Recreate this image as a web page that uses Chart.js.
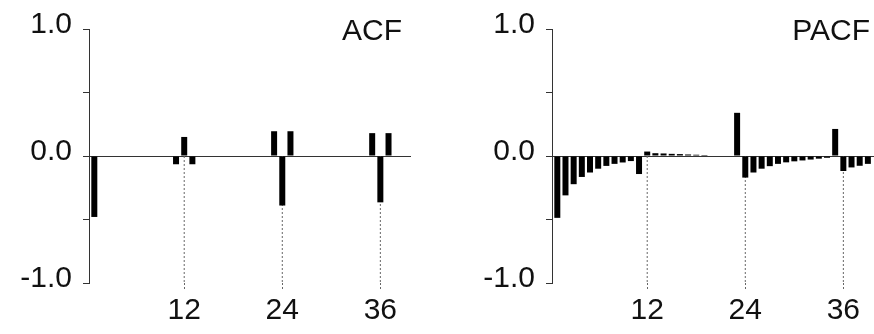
<!DOCTYPE html>
<html lang="en">
  <head>
    <meta charset="UTF-8" />
    <title>ACF / PACF</title>
    <script src="https://cdn.jsdelivr.net/npm/chart.js@4/dist/chart.umd.min.js"></script>
    <style>
      html,
      body {
        margin: 0;
        padding: 0;
        background: #fff;
        width: 874px;
        height: 334px;
        overflow: hidden;
        position: relative;
      }
      canvas {
        position: absolute;
        top: 0;
      }
      #acf {
        left: 0;
      }
      #pacf {
        left: 463px;
      }
    </style>
  </head>
  <body>
    <canvas id="acf" width="440" height="334"></canvas>
    <canvas id="pacf" width="440" height="334"></canvas>
  </body>
  <script>
    const lags = [
      1, 2, 3, 4, 5, 6, 7, 8, 9, 10, 11, 12, 13, 14, 15, 16, 17, 18, 19, 20,
      21, 22, 23, 24, 25, 26, 27, 28, 29, 30, 31, 32, 33, 34, 35, 36, 37, 38,
      39,
    ];

    const acf = [
      -0.48, 0, 0, 0, 0, 0, 0, 0, 0, 0, -0.065, 0.15, -0.065, 0, 0, 0, 0, 0,
      0, 0, 0, 0, 0.195, -0.39, 0.195, 0, 0, 0, 0, 0, 0, 0, 0, 0, 0.18, -0.365,
      0.18, 0, 0,
    ];

    const pacf = [
      -0.487, -0.31, -0.222, -0.165, -0.13, -0.1, -0.078, -0.062, -0.051,
      -0.04, -0.142, 0.035, 0.022, 0.02, 0.017, 0.015, 0.012, 0.01, 0.008, 0,
      0, 0, 0.34, -0.17, -0.13, -0.1, -0.08, -0.062, -0.05, -0.042, -0.035,
      -0.028, -0.021, -0.014, 0.213, -0.118, -0.09, -0.077, -0.062,
    ];

    const seasonalLags = [12, 24, 36];
    const yTicks = [-1, -0.5, 0, 0.5, 1];

    const font = '"Liberation Sans", Arial, sans-serif';

    const cornerTitle = {
      id: "cornerTitle",
      afterDraw(chart, args, opts) {
        const ctx = chart.ctx;
        ctx.save();
        ctx.font = "30px " + font;
        ctx.fillStyle = "#111";
        ctx.textAlign = "right";
        ctx.textBaseline = "alphabetic";
        ctx.fillText(opts.text, chart.chartArea.right - opts.inset, 40);
        ctx.restore();
      },
    };

    function guideLines() {
      // dashed drop lines at the seasonal lags, from 0 down to the bottom
      const pts = [];
      seasonalLags.forEach((l) => {
        pts.push({ x: l, y: 0 }, { x: l, y: -1 }, { x: l, y: null });
      });
      return pts;
    }

    function makeChart(id, values, title, inset) {
      const ctx = document.getElementById(id).getContext("2d");

      return new Chart(ctx, {
        type: "bar",
        data: {
          datasets: [
            {
              type: "bar",
              data: lags.map((l, i) => ({ x: l, y: values[i] })),
              backgroundColor: "#000",
              borderWidth: 0,
              inflateAmount: 0,
              barThickness: 6,
              order: 1,
            },
            {
              type: "line",
              data: guideLines(),
              borderColor: "#666",
              borderWidth: 1,
              borderDash: [2, 2],
              pointRadius: 0,
              spanGaps: false,
              order: 2,
            },
          ],
        },
        options: {
          responsive: false,
          animation: false,
          events: [],
          layout: {
            padding: { left: 0, right: 29, top: 26, bottom: 0 },
          },
          plugins: {
            legend: { display: false },
            tooltip: { enabled: false },
            cornerTitle: { text: title, inset: inset },
          },
          scales: {
            x: {
              type: "linear",
              min: 0.35,
              max: 39.75,
              offset: false,
              border: { display: false },
              grid: {
                offset: false,
                drawOnChartArea: false,
                drawTicks: true,
                tickLength: 6,
                tickColor: "#666",
                tickBorderDash: [2, 2],
              },
              afterBuildTicks: (scale) => {
                scale.ticks = seasonalLags.map((v) => ({ value: v }));
              },
              afterFit: (scale) => {
                scale.height = 51;
              },
              ticks: {
                autoSkip: false,
                maxRotation: 0,
                padding: 4,
                color: "#111",
                font: { family: font, size: 30 },
                callback: (v) => String(v),
              },
            },
            y: {
              min: -1,
              max: 1,
              border: { display: true, color: "#333", width: 1 },
              grid: {
                drawTicks: true,
                tickLength: 6,
                tickColor: "#333",
                lineWidth: 1,
                color: (c) => (c.tick && c.tick.value === 0 ? "#333" : "rgba(0,0,0,0)"),
              },
              afterBuildTicks: (scale) => {
                scale.ticks = yTicks.map((v) => ({ value: v }));
              },
              afterFit: (scale) => {
                scale.width = 89;
              },
              ticks: {
                padding: 11,
                labelOffset: -4,
                color: "#111",
                font: { family: font, size: 30 },
                callback: (v) => (Math.abs(v) === 0.5 ? "" : v.toFixed(1)),
              },
            },
          },
        },
        plugins: [cornerTitle],
      });
    }

    makeChart("acf", acf, "ACF", 9);
    makeChart("pacf", pacf, "PACF", 4);
  </script>
</html>
